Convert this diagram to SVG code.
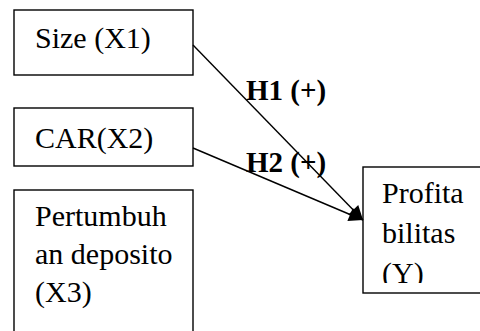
<svg xmlns="http://www.w3.org/2000/svg" width="480" height="331" viewBox="0 0 480 331">
<style>
.box{fill:#fff;stroke:#000;stroke-width:1.4}
.t{font-family:"Liberation Serif","Times New Roman",serif;font-size:30px;fill:#000}
.b{font-family:"Liberation Serif","Times New Roman",serif;font-size:29px;font-weight:bold;fill:#000}
.c{stroke:#000;stroke-width:1.4;fill:none}
</style>
<defs>
<marker id="ah" viewBox="0 0 10 10" refX="10" refY="5" markerWidth="17" markerHeight="14" markerUnits="userSpaceOnUse" orient="auto">
<path d="M0,0 L10,5 L0,10 z" fill="#000"/>
</marker>
<clipPath id="cy"><rect x="362" y="167" width="120" height="116"/></clipPath>
</defs>
<rect width="480" height="331" fill="#fff"/>
<g id="x1">
<rect class="box" x="14" y="10" width="179" height="65"/>
<text class="t" x="35" y="48">Size (X1)</text>
</g>
<g id="x2">
<rect class="box" x="14" y="108" width="179" height="58"/>
<text class="t" x="35" y="148">CAR(X2)</text>
</g>
<g id="x3">
<rect class="box" x="14" y="190" width="179" height="160"/>
<text class="t" x="35" y="226">Pertumbuh</text>
<text class="t" x="35" y="264">an deposito</text>
<text class="t" x="35" y="302">(X3)</text>
</g>
<g id="y">
<rect class="box" x="363" y="167" width="130" height="126"/>
<g clip-path="url(#cy)">
<text class="t" x="382" y="203">Profita</text>
<text class="t" x="382" y="243">bilitas</text>
<text class="t" x="382" y="283">(Y)</text>
</g>
</g>
<g id="connectors">
<line class="c" x1="193" y1="45" x2="363" y2="220" marker-end="url(#ah)"/>
<line class="c" x1="193" y1="148" x2="363" y2="220" marker-end="url(#ah)"/>
<text class="b" x="246" y="100">H1 (+)</text>
<text class="b" x="246" y="172">H2 (+)</text>
</g>
</svg>
